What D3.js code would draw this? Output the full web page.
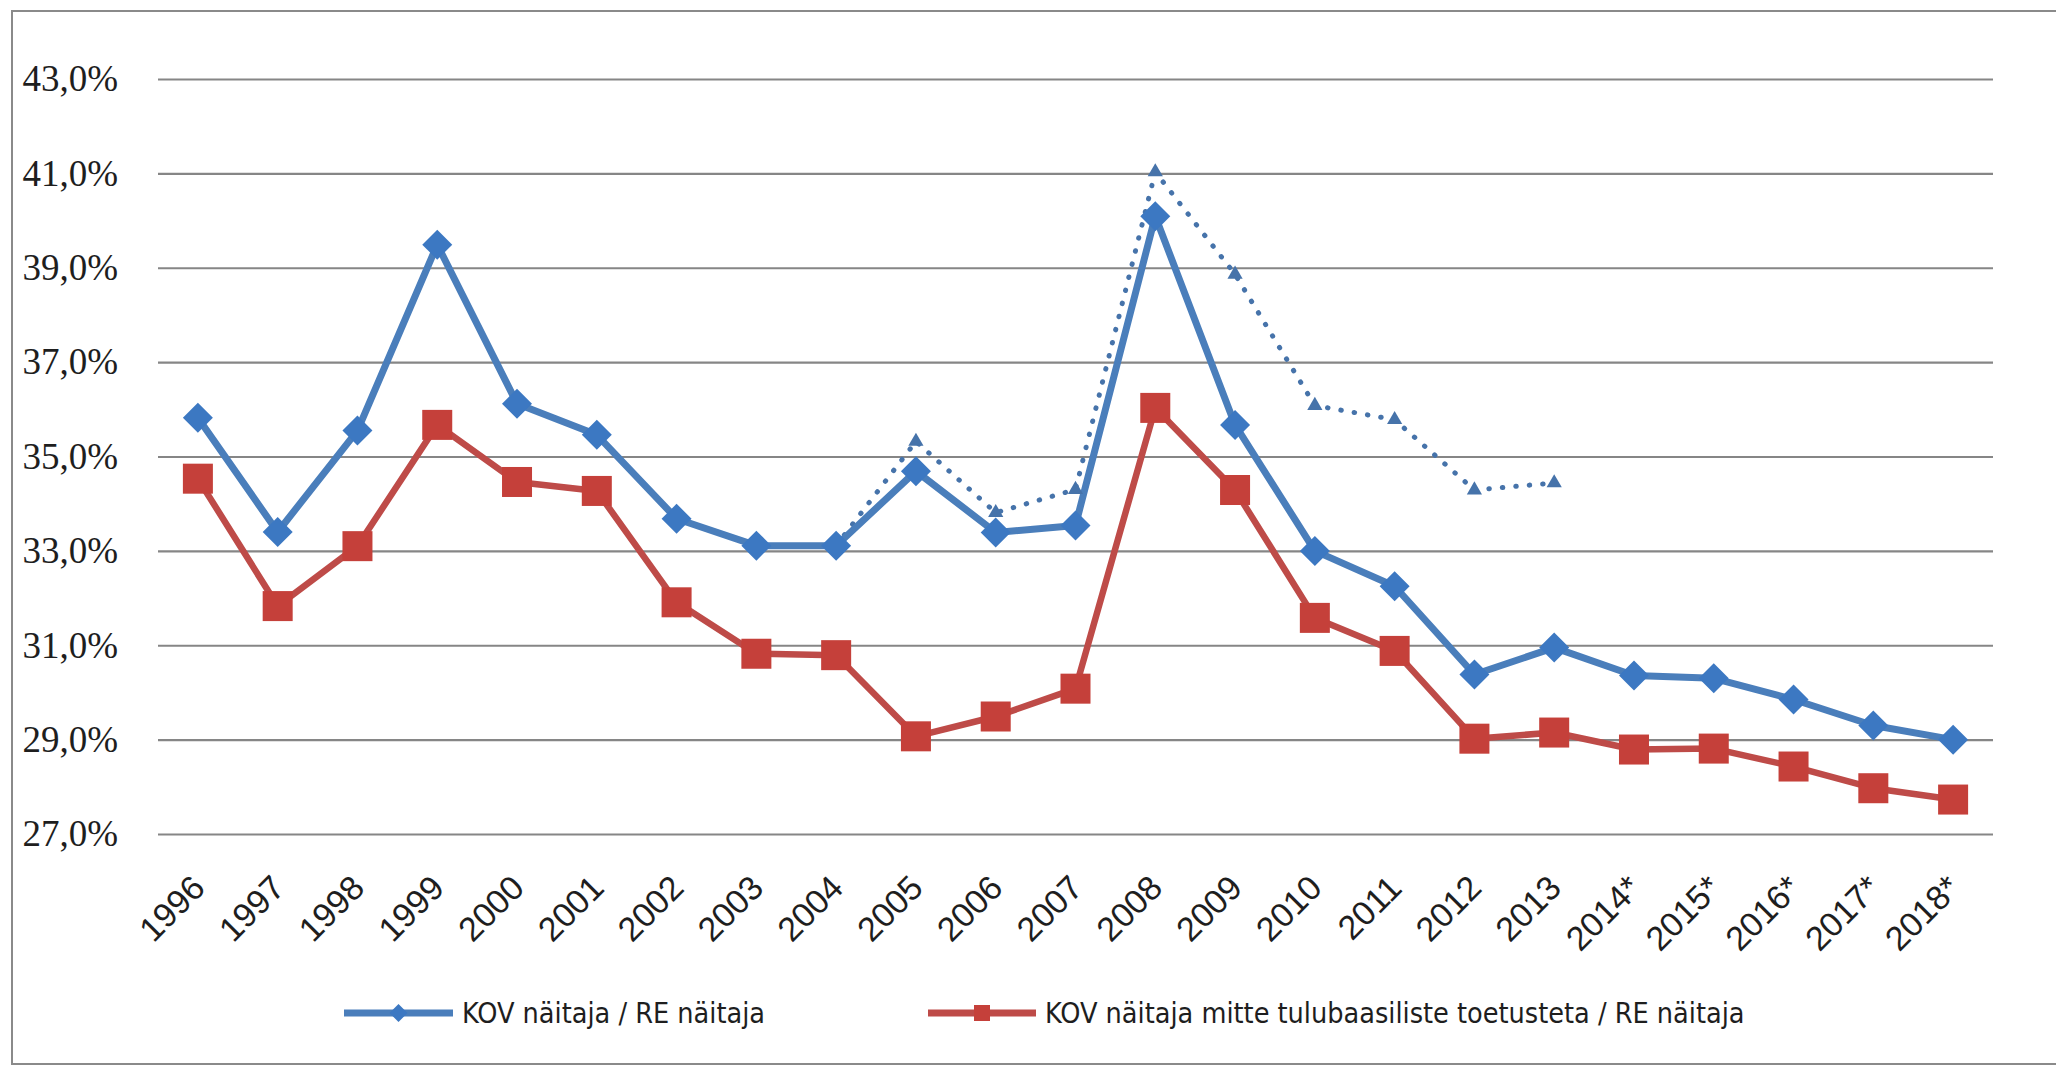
<!DOCTYPE html>
<html>
<head>
<meta charset="utf-8">
<script src="https://cdn.jsdelivr.net/npm/d3@7"></script>
<style>
  html, body { margin: 0; padding: 0; background: #fff; }
  svg { display: block; }
</style>
</head>
<body>
<svg id="chart" width="2056" height="1068"></svg>
<script>
// ---- data ----
const categories = ["1996","1997","1998","1999","2000","2001","2002","2003","2004","2005","2006","2007","2008","2009","2010","2011","2012","2013","2014*","2015*","2016*","2017*","2018*"];
const kovRe = [35.82,33.40,35.55,39.49,36.12,35.46,33.68,33.11,33.11,34.69,33.39,33.54,40.09,35.67,33.00,32.25,30.38,30.95,30.36,30.30,29.85,29.30,29.00];
const kovMitte = [34.53,31.83,33.10,35.67,34.46,34.27,31.91,30.82,30.79,29.07,29.49,30.08,36.03,34.29,31.58,30.88,29.02,29.15,28.79,28.81,28.43,27.97,27.73];
const dottedCats = ["2004","2005","2006","2007","2008","2009","2010","2011","2012","2013"];
const dottedVals = [33.11,35.32,33.81,34.30,41.03,38.86,36.08,35.78,34.29,34.44];
const yTicks = [27,29,31,33,35,37,39,41,43];
const legendLabels = ["KOV näitaja / RE näitaja", "KOV näitaja mitte tulubaasiliste toetusteta / RE näitaja"];

(function () {
// ---- layout ----
const svg = d3.select("#chart");
const pL = 158, pR = 1993, pT = 79, pB = 834;

const x = d3.scaleBand().domain(categories).range([pL, pR]);
const y = d3.scaleLinear().domain([27, 43]).range([pB, pT]);
const cx = d => x(d) + x.bandwidth() / 2;

const blueLine = "#4a7ebb", blueMark = "#3c78c2";
const redLine = "#be4b48", redMark = "#c5403a";
const dotCol = "#4673aa";

// outer frame (cropped at right)
svg.append("path")
  .attr("d", `M2060,11 L12,11 L12,1064 L2060,1064`)
  .attr("fill", "none").attr("stroke", "#8a8a8a").attr("stroke-width", 2);

// gridlines
const grid = svg.append("g").attr("transform", `translate(${pL},0)`)
  .call(d3.axisLeft(y).tickValues(yTicks).tickSize(-(pR - pL)).tickFormat(""));
grid.select(".domain").remove();
grid.selectAll(".tick line").attr("stroke", "#868686").attr("stroke-width", 2.2);

// y labels
const yAxis = svg.append("g").attr("transform", `translate(${pL},0)`)
  .call(d3.axisLeft(y).tickValues(yTicks).tickSize(0).tickPadding(40)
    .tickFormat(d => d3.format(".1f")(d).replace(".", ",") + "%"));
yAxis.select(".domain").remove();
yAxis.selectAll("text")
  .attr("font-family", "'Liberation Serif', serif")
  .attr("font-size", 37).attr("fill", "#1e1e1e").attr("dy", "0.32em");

// x labels
const xAxis = svg.append("g").attr("transform", `translate(0,${pB})`)
  .call(d3.axisBottom(x).tickSize(0));
xAxis.select(".domain").remove();
xAxis.selectAll("text")
  .attr("font-family", "'Liberation Sans', Arial, sans-serif")
  .attr("font-size", 34).attr("fill", "#1e1e1e")
  .attr("text-anchor", "end").attr("y", 0).attr("dy", 0)
  .attr("transform", "translate(9,56) rotate(-45)");

// lines
const line = (cats) => d3.line().x((d, i) => cx(cats[i])).y(d => y(d));

svg.append("path").datum(dottedVals)
  .attr("d", line(dottedCats))
  .attr("fill", "none").attr("stroke", dotCol).attr("stroke-width", 5)
  .attr("stroke-linecap", "round").attr("stroke-dasharray", "0.5 13");

svg.append("path").datum(kovRe)
  .attr("d", line(categories))
  .attr("fill", "none").attr("stroke", blueLine).attr("stroke-width", 7)
  .attr("stroke-linejoin", "round");

svg.append("path").datum(kovMitte)
  .attr("d", line(categories))
  .attr("fill", "none").attr("stroke", redLine).attr("stroke-width", 6.5)
  .attr("stroke-linejoin", "round");

// markers
const tri = d3.symbol().type(d3.symbolTriangle).size(100);
svg.append("g").selectAll("path").data(dottedVals.slice(1)).join("path")
  .attr("d", tri)
  .attr("transform", (d, i) => `translate(${cx(dottedCats[i + 1])},${y(d)})`)
  .attr("fill", dotCol);

const dia = (s) => `M0,${-s}L${s},0L0,${s}L${-s},0Z`;
svg.append("g").selectAll("path").data(kovRe).join("path")
  .attr("d", dia(15))
  .attr("transform", (d, i) => `translate(${cx(categories[i])},${y(d)})`)
  .attr("fill", blueMark);

svg.append("g").selectAll("rect").data(kovMitte).join("rect")
  .attr("x", (d, i) => cx(categories[i]) - 15)
  .attr("y", d => y(d) - 15)
  .attr("width", 30).attr("height", 30)
  .attr("fill", redMark);

// legend
const ly = 1013;
const leg = svg.append("g");
const items = [
  {x0: 344, x1: 453, tx: 462, col: blueLine, mk: blueMark, type: "d"},
  {x0: 928, x1: 1036, tx: 1045, col: redLine, mk: redMark, type: "s"}
];
items.forEach((it, i) => {
  leg.append("line").attr("x1", it.x0).attr("x2", it.x1).attr("y1", ly).attr("y2", ly)
    .attr("stroke", it.col).attr("stroke-width", 7);
  const m = (it.x0 + it.x1) / 2;
  if (it.type === "d") {
    leg.append("path").attr("d", dia(9)).attr("transform", `translate(${m},${ly})`).attr("fill", it.mk);
  } else {
    leg.append("rect").attr("x", m - 8).attr("y", ly - 8).attr("width", 16).attr("height", 16).attr("fill", it.mk);
  }
  leg.append("text").attr("x", it.tx).attr("y", ly).attr("dy", "0.35em")
    .attr("font-family", "'DejaVu Sans Condensed', 'DejaVu Sans', sans-serif")
    .attr("font-size", 28.5).attr("fill", "#1e1e1e")
    .text(legendLabels[i]);
});
})();
</script>
</body>
</html>
